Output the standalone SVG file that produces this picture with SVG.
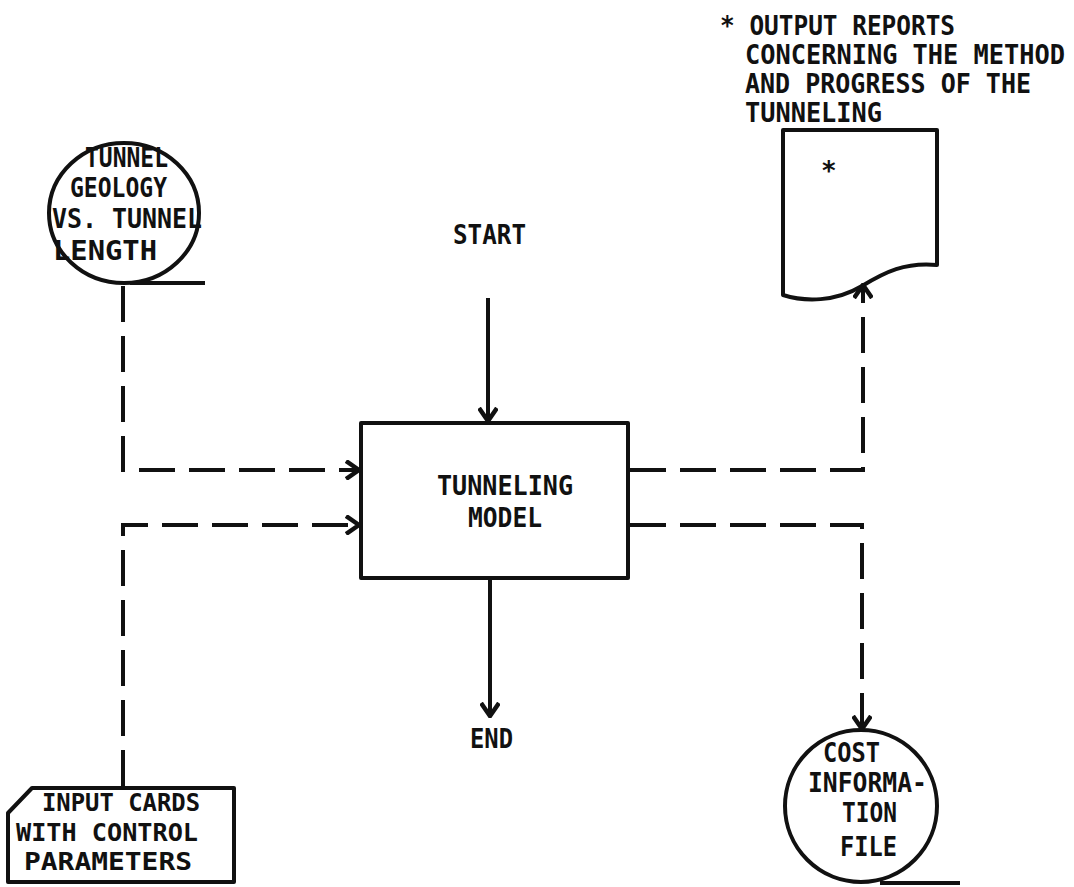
<svg xmlns="http://www.w3.org/2000/svg" width="1074" height="887" viewBox="0 0 1074 887">
<style>
text{font-family:"DejaVu Sans Mono","Liberation Mono",monospace;font-size:26px;font-weight:bold;fill:#111;}
.sm{font-size:24px;}
.sh{fill:none;stroke:#111;stroke-width:4;stroke-linejoin:round;}
.c{fill:none;stroke:#111;stroke-width:4;}
.d{stroke-dasharray:36 14;}
</style>
<defs>
<marker id="ah" viewBox="0 0 16 20" refX="14" refY="10" markerWidth="16" markerHeight="20" markerUnits="userSpaceOnUse" orient="auto">
<path d="M1,1 L14,10 L1,19" fill="none" stroke="#111" stroke-width="4.5" stroke-dasharray="none"/>
</marker>
</defs>
<rect width="1074" height="887" fill="#fff"/>

<g id="note">
<text x="720" y="35" textLength="235" lengthAdjust="spacingAndGlyphs">* OUTPUT REPORTS</text>
<text x="745" y="64" textLength="320" lengthAdjust="spacingAndGlyphs">CONCERNING THE METHOD</text>
<text x="745" y="93" textLength="286" lengthAdjust="spacingAndGlyphs">AND PROGRESS OF THE</text>
<text x="745" y="122" textLength="137" lengthAdjust="spacingAndGlyphs">TUNNELING</text>
</g>

<g id="geology">
<ellipse class="sh" cx="124" cy="213" rx="75" ry="70"/>
<line class="sh" x1="130" y1="283" x2="205" y2="283"/>
<text x="85" y="167" textLength="83" lengthAdjust="spacingAndGlyphs">TUNNEL</text>
<text x="70" y="197" textLength="97" lengthAdjust="spacingAndGlyphs">GEOLOGY</text>
<text x="52" y="228" textLength="150" lengthAdjust="spacingAndGlyphs">VS. TUNNEL</text>
<text x="53" y="260" textLength="104" lengthAdjust="spacingAndGlyphs">LENGTH</text>
</g>

<g id="start">
<text x="453" y="244" textLength="73" lengthAdjust="spacingAndGlyphs">START</text>
</g>

<g id="end">
<text x="470" y="748" textLength="43" lengthAdjust="spacingAndGlyphs">END</text>
</g>

<g id="model">
<rect class="sh" x="361" y="423" width="267" height="155"/>
<text x="437" y="495" textLength="136" lengthAdjust="spacingAndGlyphs">TUNNELING</text>
<text x="468" y="527" textLength="74" lengthAdjust="spacingAndGlyphs">MODEL</text>
</g>

<g id="reports">
<path class="sh" d="M783,130 H937 V265 C905,262 885,272 862,286 C835,302 805,302 783,295 Z"/>
<text x="821" y="180">*</text>
</g>

<g id="cards">
<path class="sh" d="M8,813 L32,788 H234 V882 H8 Z"/>
<text class="sm" x="42" y="811" textLength="158" lengthAdjust="spacingAndGlyphs">INPUT CARDS</text>
<text class="sm" x="16" y="841" textLength="182" lengthAdjust="spacingAndGlyphs">WITH CONTROL</text>
<text class="sm" x="24" y="870" textLength="168" lengthAdjust="spacingAndGlyphs">PARAMETERS</text>
</g>

<g id="cost">
<circle class="sh" cx="861" cy="806" r="76"/>
<line class="sh" x1="880" y1="883" x2="960" y2="883"/>
<text x="823" y="762" textLength="57" lengthAdjust="spacingAndGlyphs">COST</text>
<text x="808" y="792" textLength="119" lengthAdjust="spacingAndGlyphs">INFORMA-</text>
<text x="842" y="822" textLength="55" lengthAdjust="spacingAndGlyphs">TION</text>
<text x="840" y="856" textLength="57" lengthAdjust="spacingAndGlyphs">FILE</text>
</g>

<g id="connectors">
<path class="c" d="M488,298 V421" marker-end="url(#ah)"/>
<path class="c" d="M490,580 V716" marker-end="url(#ah)"/>
<path class="c d" d="M123,286 V470 H359" marker-end="url(#ah)"/>
<path class="c d" d="M123,786 V525 H359" marker-end="url(#ah)"/>
<path class="c d" d="M630,470 H863 V285" marker-end="url(#ah)"/>
<path class="c d" d="M630,525 H862 V729" marker-end="url(#ah)"/>
</g>
</svg>
